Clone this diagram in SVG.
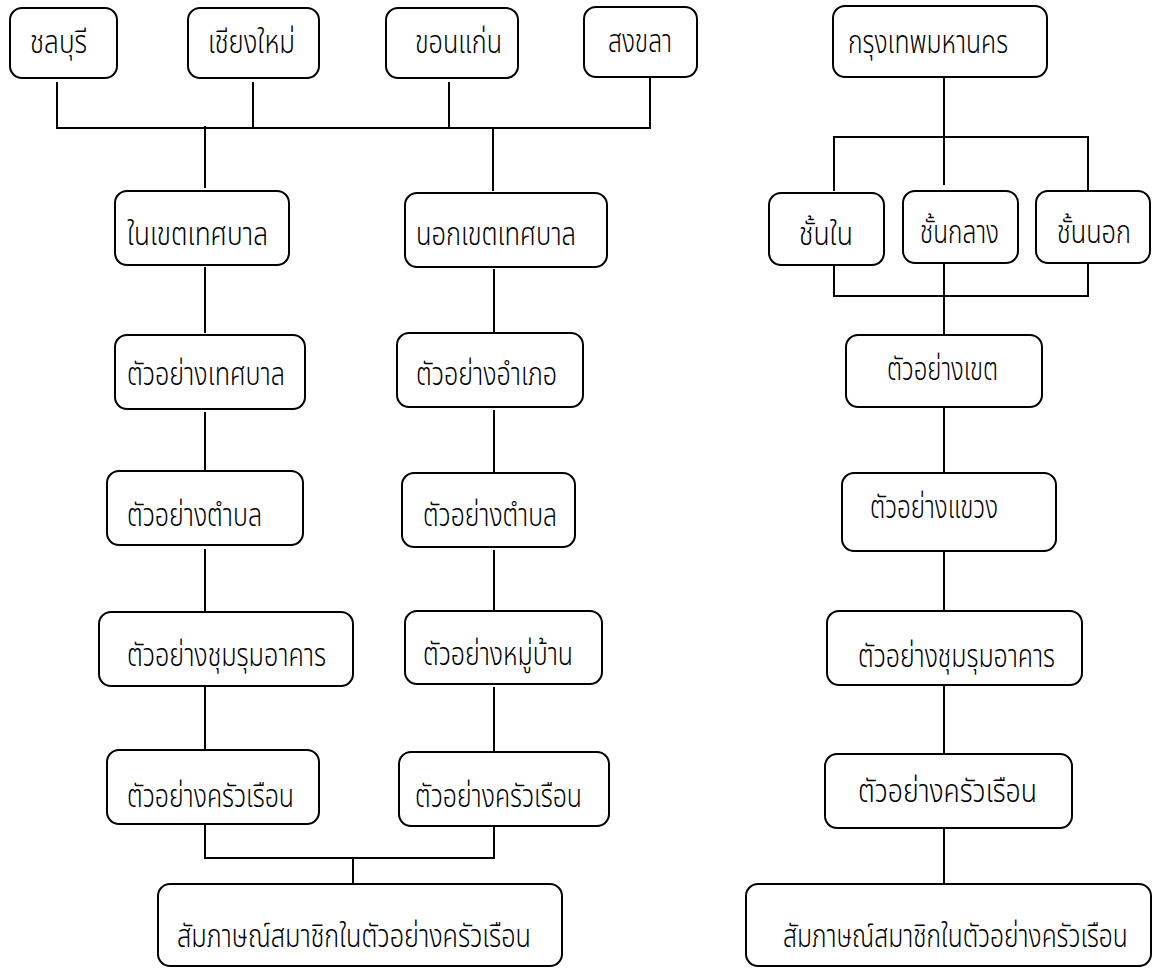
<svg xmlns="http://www.w3.org/2000/svg" width="1154" height="969" viewBox="0 0 1154 969">
<style>
.n rect{fill:#fff;stroke:#000;stroke-width:2}
.n text{font-family:"Noto Sans Thai","Noto Sans","DejaVu Sans",sans-serif;font-size:32px;font-weight:300;fill:#000}
.c line{stroke:#000;stroke-width:2}
</style>
<rect width="1154" height="969" fill="#fff"/>
<g class="c">
<line x1="57" y1="82" x2="57" y2="128"/>
<line x1="253" y1="82" x2="253" y2="128"/>
<line x1="449" y1="82" x2="449" y2="128"/>
<line x1="650" y1="77" x2="650" y2="128"/>
<line x1="56" y1="128" x2="651" y2="128"/>
<line x1="205" y1="126" x2="205" y2="188"/>
<line x1="493" y1="128" x2="493" y2="191"/>
<line x1="205" y1="267" x2="205" y2="333"/>
<line x1="205" y1="412" x2="205" y2="471"/>
<line x1="205" y1="549" x2="205" y2="612"/>
<line x1="205" y1="686" x2="205" y2="750"/>
<line x1="205" y1="824" x2="205" y2="858"/>
<line x1="494" y1="269" x2="494" y2="333"/>
<line x1="494" y1="410" x2="494" y2="473"/>
<line x1="494" y1="550" x2="494" y2="611"/>
<line x1="494" y1="687" x2="494" y2="752"/>
<line x1="494" y1="826" x2="494" y2="858"/>
<line x1="204" y1="858" x2="495" y2="858"/>
<line x1="353" y1="858" x2="353" y2="884"/>
<line x1="944" y1="77" x2="944" y2="137"/>
<line x1="833" y1="137" x2="1089" y2="137"/>
<line x1="834" y1="137" x2="834" y2="191"/>
<line x1="944" y1="137" x2="944" y2="185"/>
<line x1="1088" y1="137" x2="1088" y2="191"/>
<line x1="834" y1="265" x2="834" y2="296"/>
<line x1="944" y1="263" x2="944" y2="296"/>
<line x1="1088" y1="263" x2="1088" y2="296"/>
<line x1="833" y1="296" x2="1089" y2="296"/>
<line x1="944" y1="296" x2="944" y2="335"/>
<line x1="944" y1="407" x2="944" y2="473"/>
<line x1="944" y1="551" x2="944" y2="611"/>
<line x1="944" y1="685" x2="944" y2="754"/>
<line x1="944" y1="828" x2="944" y2="884"/>
</g>
<g id="n-chonburi" class="n"><rect x="10" y="8" width="107" height="70" rx="12"/><text x="30" y="53" textLength="57" lengthAdjust="spacingAndGlyphs">ชลบุรี</text></g>
<g id="n-chiangmai" class="n"><rect x="188" y="8" width="131" height="70" rx="12"/><text x="208" y="53" textLength="87" lengthAdjust="spacingAndGlyphs">เชียงใหม่</text></g>
<g id="n-khonkaen" class="n"><rect x="386" y="8" width="132" height="70" rx="12"/><text x="415" y="53" textLength="87" lengthAdjust="spacingAndGlyphs">ขอนแก่น</text></g>
<g id="n-songkhla" class="n"><rect x="584" y="7" width="113" height="70" rx="12"/><text x="608" y="52" textLength="64" lengthAdjust="spacingAndGlyphs">สงขลา</text></g>
<g id="n-bangkok" class="n"><rect x="833" y="6" width="214" height="71" rx="12"/><text x="848" y="53" textLength="160" lengthAdjust="spacingAndGlyphs">กรุงเทพมหานคร</text></g>
<g id="n-inmuni" class="n"><rect x="115" y="191" width="174" height="74" rx="12"/><text x="127" y="245" textLength="141" lengthAdjust="spacingAndGlyphs">ในเขตเทศบาล</text></g>
<g id="n-outmuni" class="n"><rect x="405" y="193" width="202" height="74" rx="12"/><text x="416" y="245" textLength="160" lengthAdjust="spacingAndGlyphs">นอกเขตเทศบาล</text></g>
<g id="n-inner" class="n"><rect x="769" y="193" width="115" height="72" rx="12"/><text x="799" y="245" textLength="54" lengthAdjust="spacingAndGlyphs">ชั้นใน</text></g>
<g id="n-middle" class="n"><rect x="903" y="191" width="115" height="72" rx="12"/><text x="920" y="243" textLength="79" lengthAdjust="spacingAndGlyphs">ชั้นกลาง</text></g>
<g id="n-outer" class="n"><rect x="1036" y="191" width="114" height="72" rx="12"/><text x="1057" y="243" textLength="74" lengthAdjust="spacingAndGlyphs">ชั้นนอก</text></g>
<g id="n-s-muni" class="n"><rect x="115" y="335" width="190" height="74" rx="12"/><text x="127" y="385" textLength="158" lengthAdjust="spacingAndGlyphs">ตัวอย่างเทศบาล</text></g>
<g id="n-s-amphoe" class="n"><rect x="397" y="333" width="186" height="74" rx="12"/><text x="416" y="385" textLength="141" lengthAdjust="spacingAndGlyphs">ตัวอย่างอำเภอ</text></g>
<g id="n-s-khet" class="n"><rect x="846" y="335" width="196" height="72" rx="12"/><text x="887" y="380" textLength="111" lengthAdjust="spacingAndGlyphs">ตัวอย่างเขต</text></g>
<g id="n-s-tambon-l" class="n"><rect x="107" y="471" width="196" height="74" rx="12"/><text x="127" y="526" textLength="135" lengthAdjust="spacingAndGlyphs">ตัวอย่างตำบล</text></g>
<g id="n-s-tambon-r" class="n"><rect x="402" y="473" width="173" height="74" rx="12"/><text x="423" y="526" textLength="134" lengthAdjust="spacingAndGlyphs">ตัวอย่างตำบล</text></g>
<g id="n-s-khwaeng" class="n"><rect x="842" y="473" width="214" height="78" rx="12"/><text x="870" y="518" textLength="128" lengthAdjust="spacingAndGlyphs">ตัวอย่างแขวง</text></g>
<g id="n-s-block-l" class="n"><rect x="99" y="612" width="254" height="74" rx="12"/><text x="127" y="666" textLength="199" lengthAdjust="spacingAndGlyphs">ตัวอย่างชุมรุมอาคาร</text></g>
<g id="n-s-village" class="n"><rect x="405" y="611" width="197" height="73" rx="12"/><text x="423" y="665" textLength="150" lengthAdjust="spacingAndGlyphs">ตัวอย่างหมู่บ้าน</text></g>
<g id="n-s-block-r" class="n"><rect x="827" y="611" width="255" height="74" rx="12"/><text x="858" y="667" textLength="197" lengthAdjust="spacingAndGlyphs">ตัวอย่างชุมรุมอาคาร</text></g>
<g id="n-s-hh-l" class="n"><rect x="107" y="750" width="212" height="74" rx="12"/><text x="127" y="807" textLength="167" lengthAdjust="spacingAndGlyphs">ตัวอย่างครัวเรือน</text></g>
<g id="n-s-hh-m" class="n"><rect x="399" y="752" width="210" height="74" rx="12"/><text x="415" y="807" textLength="167" lengthAdjust="spacingAndGlyphs">ตัวอย่างครัวเรือน</text></g>
<g id="n-s-hh-r" class="n"><rect x="825" y="754" width="247" height="74" rx="12"/><text x="858" y="802" textLength="179" lengthAdjust="spacingAndGlyphs">ตัวอย่างครัวเรือน</text></g>
<g id="n-interview-l" class="n"><rect x="158" y="884" width="404" height="82" rx="12"/><text x="177" y="947" textLength="354" lengthAdjust="spacingAndGlyphs">สัมภาษณ์สมาชิกในตัวอย่างครัวเรือน</text></g>
<g id="n-interview-r" class="n"><rect x="746" y="884" width="405" height="82" rx="12"/><text transform="translate(783 947) scale(0.8 1)" x="0" y="0" textLength="431" lengthAdjust="spacingAndGlyphs">สัมภาษณ์สมาชิกในตัวอย่างครัวเรือน</text></g>
</svg>
